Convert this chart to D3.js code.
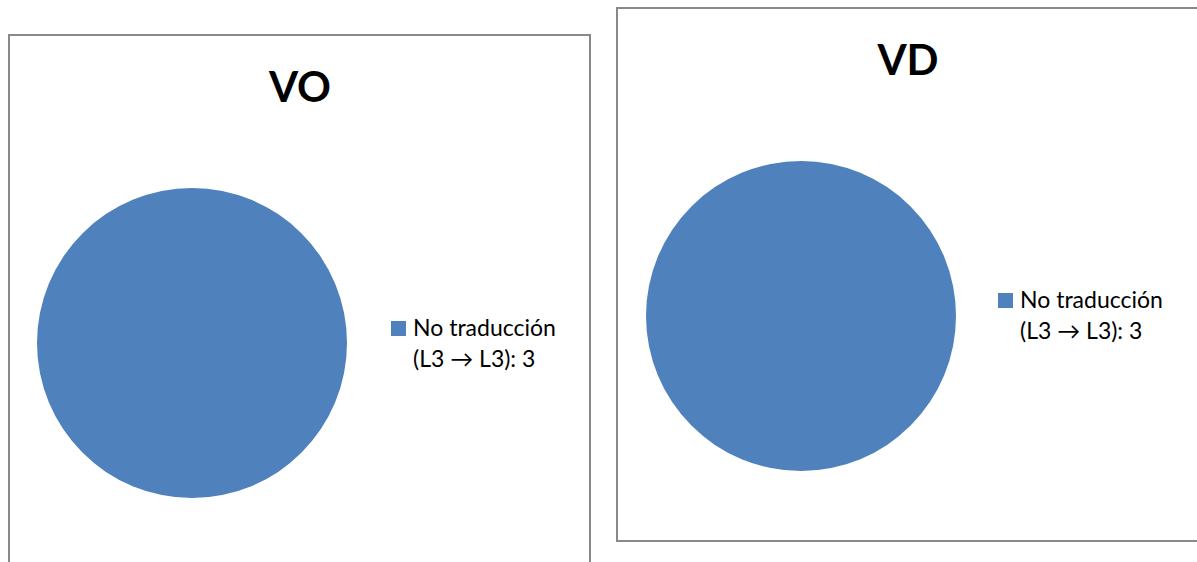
<!DOCTYPE html>
<html>
<head>
<meta charset="utf-8">
<script src="https://cdn.jsdelivr.net/npm/d3@7"></script>
<style>
  html, body { margin: 0; padding: 0; background: #fff; }
  svg { display: block; }
</style>
</head>
<body>
<svg id="chart" width="1197" height="562"></svg>
<script>
// Categories and values for each chart
const categories = ["No traducción (L3 → L3)"];
const legendLines = [["No traducción", "(L3 → L3)"]];
const valuesVO = [3];
const valuesVD = [3];
const titles = ["VO", "VD"];

const colors = ["#4F81BD"];

const svg = d3.select("#chart");

const panels = [
  { title: titles[0], values: valuesVO, x: 9, y: 35, w: 581, h: 560,
    titleX: 300, titleY: 102, cx: 192, cy: 343, r: 155, legX: 391, legY: 321 },
  { title: titles[1], values: valuesVD, x: 617, y: 8, w: 582, h: 533,
    titleX: 908, titleY: 75, cx: 801, cy: 316, r: 155, legX: 998, legY: 293 }
];

const pie = d3.pie().sort(null).value(d => d.value);
const color = d3.scaleOrdinal().domain(categories).range(colors);

panels.forEach(p => {
  const g = svg.append("g");

  // chart frame
  g.append("rect")
    .attr("x", p.x).attr("y", p.y)
    .attr("width", p.w).attr("height", p.h)
    .attr("fill", "#fff")
    .attr("stroke", "#898989")
    .attr("stroke-width", 2);

  // title
  g.append("text")
    .attr("x", p.titleX).attr("y", p.titleY)
    .attr("text-anchor", "middle")
    .attr("font-family", "Lato, 'Open Sans', sans-serif")
    .attr("font-weight", "bold")
    .attr("font-size", 42)
    .attr("fill", "#000")
    .text(p.title);

  // pie
  const data = categories.map((c, i) => ({ category: c, value: p.values[i] }));
  const arc = d3.arc().innerRadius(0).outerRadius(p.r);
  g.append("g")
    .attr("transform", `translate(${p.cx},${p.cy})`)
    .selectAll("path")
    .data(pie(data))
    .join("path")
    .attr("d", arc)
    .attr("fill", d => color(d.data.category));

  // legend
  const leg = g.append("g").attr("transform", `translate(${p.legX},${p.legY})`);
  data.forEach((d, i) => {
    leg.append("rect")
      .attr("x", 0).attr("y", 0)
      .attr("width", 15).attr("height", 15)
      .attr("fill", color(d.category));
    const lines = legendLines[i].slice();
    lines[lines.length - 1] = lines[lines.length - 1] + ": " + d.value;
    const t = leg.append("text")
      .attr("font-family", "Lato, 'Open Sans', sans-serif")
      .attr("font-size", 23)
      .attr("fill", "#000");
    lines.forEach((line, j) => {
      t.append("tspan")
        .attr("x", 22)
        .attr("y", 15 + j * 31)
        .text(line);
    });
  });
});
</script>
</body>
</html>
